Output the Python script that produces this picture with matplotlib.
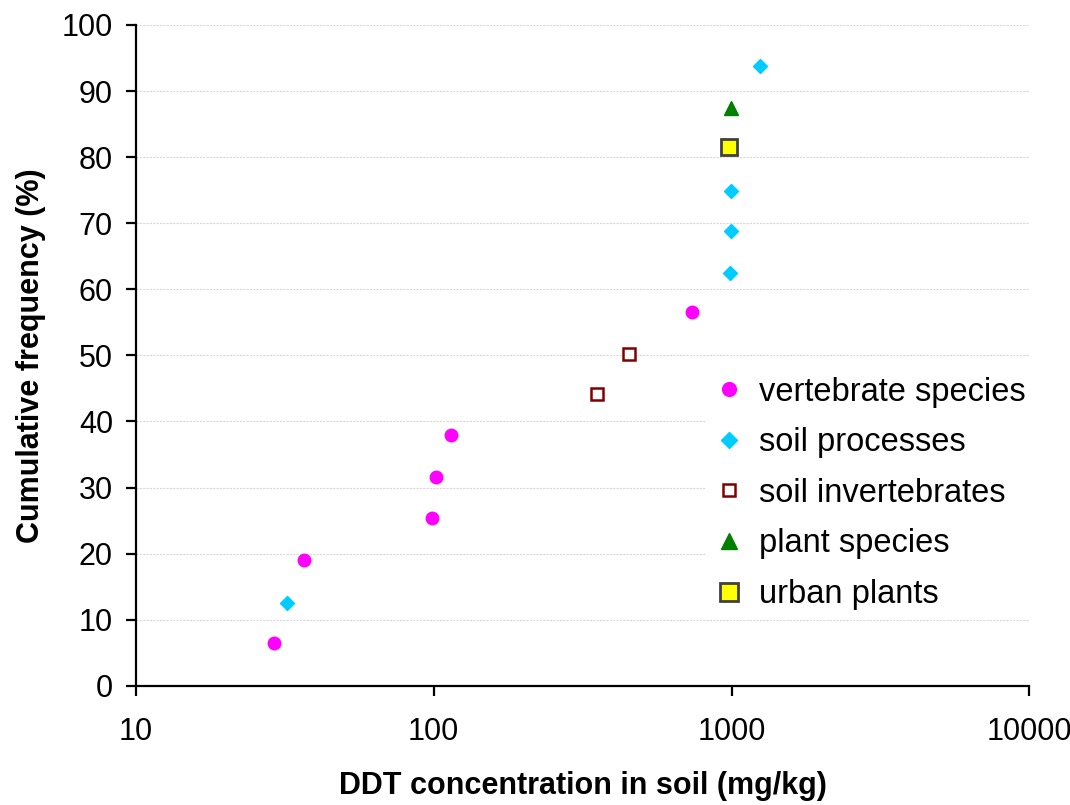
import matplotlib.pyplot as plt

plt.rcParams['font.family'] = ['Liberation Sans', 'DejaVu Sans']

# values
vert_x = [29.1, 36.6, 98.7, 101.8, 114, 738]
vert_y = [6.5, 19.1, 25.4, 31.6, 38.0, 56.6]

proc_x = [32.2, 990, 995, 995, 1250]
proc_y = [12.6, 62.5, 68.8, 74.9, 93.8]

inv_x = [354, 453]
inv_y = [44.1, 50.2]

plant_x = [995]
plant_y = [87.5]

urban_x = [980]
urban_y = [81.6]

fig = plt.figure(figsize=(10.7, 8.05), dpi=100)
ax = fig.add_axes([0.127, 0.148, 0.835, 0.821])

ax.plot(vert_x, vert_y, 'o', color='#FF00FF', markersize=9, label='vertebrate species')
ax.plot(proc_x, proc_y, 'D', color='#00CCFF', markersize=7.5, label='soil processes')
ax.plot(inv_x, inv_y, 's', markerfacecolor='white', markeredgecolor='#800000',
        markeredgewidth=1.8, markersize=8, label='soil invertebrates')
ax.plot(plant_x, plant_y, '^', color='#008000', markersize=10, label='plant species')
ax.plot(urban_x, urban_y, 's', markerfacecolor='#FFFF00', markeredgecolor='#404040',
        markeredgewidth=2, markersize=11.5, label='urban plants')

ax.set_xscale('log')
ax.set_xlim(10, 10000)
ax.set_ylim(0, 100)
ax.set_xticks([10, 100, 1000, 10000])
ax.set_xticklabels(['10', '100', '1000', '10000'])
ax.minorticks_off()
ax.set_yticks(range(0, 101, 10))

ax.yaxis.grid(True, color='#d9d9d9', linestyle=(0, (2, 1)), linewidth=0.8)
ax.set_axisbelow(True)

for s in ['top', 'right']:
    ax.spines[s].set_visible(False)
for s in ['left', 'bottom']:
    ax.spines[s].set_linewidth(1.6)

ax.tick_params(axis='both', labelsize=22, width=1.6, length=7.5, direction='out')
ax.tick_params(axis='x', pad=15)
ax.tick_params(axis='y', pad=9)

ax.set_xlabel('DDT concentration in soil (mg/kg)', fontsize=22, fontweight='bold', labelpad=17)
ax.set_ylabel('Cumulative frequency (%)', fontsize=22, fontweight='bold', labelpad=11)

leg = ax.legend(loc='upper left', bbox_to_anchor=(0.645, 0.5645), bbox_transform=fig.transFigure,
                frameon=True, fontsize=23.5, handlelength=0.8, handletextpad=0.5,
                labelspacing=0.6, borderpad=0.3, fancybox=False, markerscale=1.1)
leg.get_frame().set_edgecolor('none')
leg.get_frame().set_facecolor('white')
leg.get_frame().set_alpha(1)

fig.savefig('out.png', dpi=100)
